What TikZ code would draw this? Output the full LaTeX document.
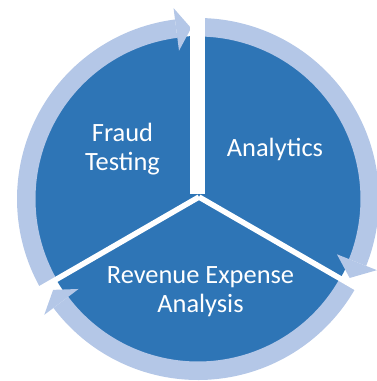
\documentclass[tikz,border=0pt]{standalone}
\usepackage{fontspec}
\setmainfont{Carlito}
\definecolor{pieblue}{HTML}{2E75B6}
\definecolor{ringblue}{HTML}{B4C7E7}
\begin{document}
\begin{tikzpicture}[x=1pt,y=1pt,
  seg/.style={fill=pieblue},
  band/.style={fill=ringblue},
  gapstrip/.style={fill=white},
  gapline/.style={draw=white, line width=5.5pt},
  lbl/.style={text=white, font=\fontsize{26.4}{29}\selectfont, align=center, inner sep=0pt}]
\useasboundingbox (-198,-182) rectangle (178,199);
% pie
\fill[seg] (0,0) circle (163);
% ring arcs
\fill[band] (210:162.5) arc[start angle=210, end angle=97.3, radius=162.5]
  -- (97.3:181) arc[start angle=97.3, end angle=210, radius=181] -- cycle;
\fill[band] (90:162.5) arc[start angle=90, end angle=-21.7, radius=162.5]
  -- (-21.7:181) arc[start angle=-21.7, end angle=90, radius=181] -- cycle;
\fill[band] (-30:162.5) arc[start angle=-30, end angle=-143, radius=162.5]
  -- (-143:181) arc[start angle=-143, end angle=-30, radius=181] -- cycle;
% arrowheads
\fill[band] (97.3:149.5) -- (97.3:192.5) -- (92.3:171) -- cycle;
\fill[band] (-21.7:149.5) -- (-21.7:192.5) -- (-27.5:171) -- cycle;
\fill[band] (-143:149.5) -- (-143:192.5) -- (-147.9:171) -- cycle;
% gaps
\fill[gapstrip] (-7.5,5) rectangle (7.5,200);
\coordinate (J) at (1,2);
\draw[gapline] (J) -- ++(210:210);
\draw[gapline] (J) -- ++(-30:210);
% labels
\node[lbl] (fraud) at (-75.5,49.6) {Fraud\\Testing};
\node[lbl, anchor=base] (analytics) at (77,43) {Analytics};
\node[lbl] (rev) at (2.5,-92.3) {Revenue Expense\\Analysis};
\end{tikzpicture}
\end{document}
